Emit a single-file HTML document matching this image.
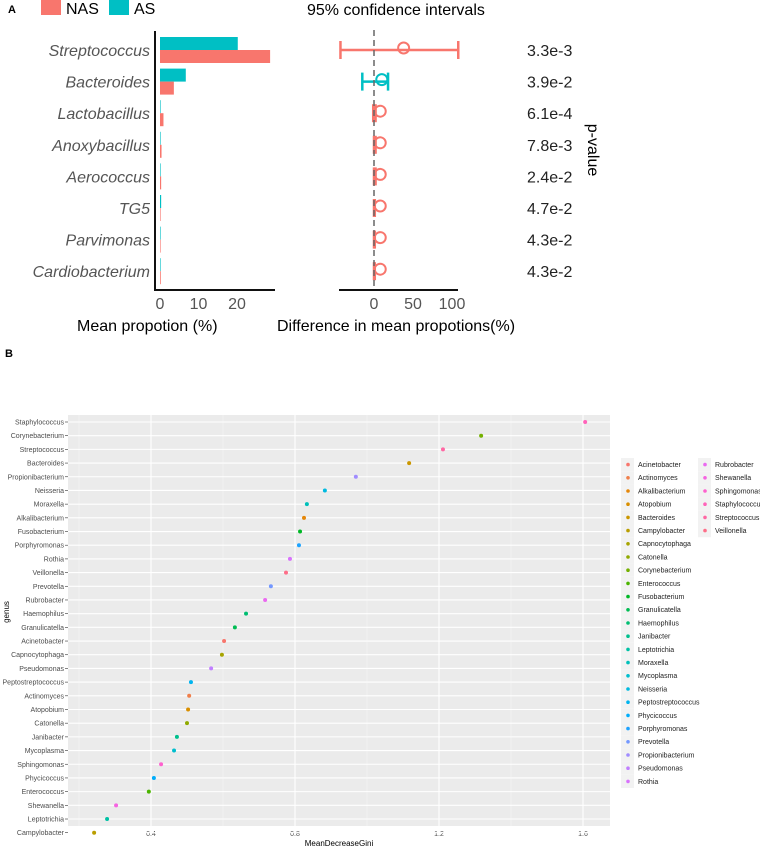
<!DOCTYPE html>
<html><head><meta charset="utf-8"><style>
body{margin:0;background:#fff;}
svg{display:block;font-family:"Liberation Sans",Arial,sans-serif;}
</style></head><body>
<svg id="svg" width="760" height="847" viewBox="0 0 760 847" xmlns="http://www.w3.org/2000/svg">
<g id="pa"></g>
<g id="pb"></g>
</svg>
<script>
// ---------- Panel A data ----------
const aGenera = ["Streptococcus","Bacteroides","Lactobacillus","Anoxybacillus","Aerococcus","TG5","Parvimonas","Cardiobacterium"];
const aAS = [20.2,6.7,0.1,0.1,0.1,0.3,0.1,0.1];
const aNAS = [28.6,3.6,0.9,0.4,0.3,0.1,0.1,0.2];
const ciLow = [-43,-15,-1,0,0,0,0,0];
const ciHigh = [108,18,2,2,2,1,1,1];
const ciMid = [38,10,8,8,8,8,8,8];
const ciGroup = ["NAS","AS","NAS","NAS","NAS","NAS","NAS","NAS"];
const pvals = ["3.3e-3","3.9e-2","6.1e-4","7.8e-3","2.4e-2","4.7e-2","4.3e-2","4.3e-2"];
const aTicks = [0,10,20];
const ciTicks = [0,50,100];
// ---------- Panel B data ----------
const bGenera = ["Staphylococcus","Corynebacterium","Streptococcus","Bacteroides","Propionibacterium","Neisseria","Moraxella","Alkalibacterium","Fusobacterium","Porphyromonas","Rothia","Veillonella","Prevotella","Rubrobacter","Haemophilus","Granulicatella","Acinetobacter","Capnocytophaga","Pseudomonas","Peptostreptococcus","Actinomyces","Atopobium","Catonella","Janibacter","Mycoplasma","Sphingomonas","Phycicoccus","Enterococcus","Shewanella","Leptotrichia","Campylobacter"];
const bGini = [1.606,1.317,1.211,1.117,0.969,0.883,0.833,0.825,0.814,0.811,0.786,0.775,0.733,0.717,0.664,0.633,0.603,0.597,0.567,0.511,0.506,0.503,0.500,0.472,0.464,0.428,0.408,0.394,0.303,0.278,0.242];
const bTicks = [0.4,0.8,1.2,1.6];
const bMinor = [0.2,0.6,1.0,1.4];

const NS="http://www.w3.org/2000/svg";
function mk(parent,tag,attrs,text){const e=document.createElementNS(NS,tag);for(const k in attrs)e.setAttribute(k,attrs[k]);if(text!==undefined)e.textContent=text;parent.appendChild(e);return e;}
const RED="#F8766D", TEAL="#00BFC4";
const pa=document.getElementById('pa'), pb=document.getElementById('pb');

// ---- Panel A ----
let t;
t=mk(pa,'text',{x:8,y:13,'font-size':11,'font-weight':'bold'},'A');


let r=mk(pa,'rect',{x:41,y:0,width:20,height:15,fill:RED});


t=mk(pa,'text',{x:66,y:14,'font-size':16},'NAS');


r=mk(pa,'rect',{x:109,y:0,width:20,height:15,fill:TEAL});


t=mk(pa,'text',{x:134,y:14,'font-size':16},'AS');


t=mk(pa,'text',{x:307,y:15,'font-size':16},'95% confidence intervals');



const rowY=i=>50+i*31.6;
const xa=v=>160+v*3.85;
const xc=v=>374+v*0.78;
aGenera.forEach((g,i)=>{
  const y=rowY(i);
  let l=mk(pa,'text',{x:150,y:y+6,'font-size':16,'font-style':'italic',fill:'#555','text-anchor':'end'},g);
  
  
  let b=mk(pa,'rect',{x:xa(0),y:y-13,width:Math.max(0.6,xa(aAS[i])-xa(0)),height:13,fill:TEAL});
  
  
  b=mk(pa,'rect',{x:xa(0),y:y,width:Math.max(0.6,xa(aNAS[i])-xa(0)),height:13,fill:RED});
  
  
  const col=ciGroup[i]==="AS"?TEAL:RED;
  const ci=mk(pa,'g',{stroke:col,'stroke-width':2.5,fill:'none'});
  
  
  mk(ci,'line',{x1:xc(ciLow[i]),x2:xc(ciHigh[i]),y1:y,y2:y});
  mk(ci,'line',{x1:xc(ciLow[i]),x2:xc(ciLow[i]),y1:y-9,y2:y+9});
  mk(ci,'line',{x1:xc(ciHigh[i]),x2:xc(ciHigh[i]),y1:y-9,y2:y+9});
  mk(ci,'circle',{cx:xc(ciMid[i]),cy:y-2,r:5.5,'stroke-width':2});
  let p=mk(pa,'text',{x:527,y:y+6,'font-size':16,fill:'#222'},pvals[i]);
  
  
});
let ln=mk(pa,'line',{x1:xc(0),x2:xc(0),y1:30,y2:290,stroke:'#666','stroke-width':1.5,'stroke-dasharray':'6,4'});


ln=mk(pa,'path',{d:'M155,31 V290 H275',stroke:'#111','stroke-width':2,fill:'none'});


ln=mk(pa,'line',{x1:339,x2:458,y1:290,y2:290,stroke:'#111','stroke-width':2});


aTicks.forEach(v=>{let k=mk(pa,'text',{x:xa(v),y:309,'font-size':16,fill:'#555','text-anchor':'middle'},v);

});
ciTicks.forEach(v=>{let k=mk(pa,'text',{x:xc(v),y:309,'font-size':16,fill:'#555','text-anchor':'middle'},v);

});
t=mk(pa,'text',{x:77,y:331,'font-size':16},'Mean propotion (%)');


t=mk(pa,'text',{x:277,y:331,'font-size':16},'Difference in mean propotions(%)');


t=mk(pa,'text',{x:0,y:0,'font-size':16,transform:'translate(588,150) rotate(90)','text-anchor':'middle'},'p-value');



// ---- Panel B ----
function hcl(h){const L=65,C=100;const hr=h*Math.PI/180;const u=C*Math.cos(hr),v=C*Math.sin(hr);
 const Y=Math.pow((L+16)/116,3);const un=0.1978,vn=0.4683;const up=u/(13*L)+un,vp=v/(13*L)+vn;
 const X=Y*9*up/(4*vp),Z=Y*(12-3*up-20*vp)/(4*vp);
 let rgb=[3.2406*X-1.5372*Y-0.4986*Z,-0.9689*X+1.8758*Y+0.0415*Z,0.0557*X-0.2040*Y+1.0570*Z];
 rgb=rgb.map(c=>{c=c<=0.0031308?12.92*c:1.055*Math.pow(c,1/2.4)-0.055;return Math.round(Math.max(0,Math.min(1,c))*255);});
 return 'rgb('+rgb.join(',')+')';}
const legendOrder=bGenera.slice().sort();
const n=legendOrder.length;
const colorOf=g=>hcl(15+360*legendOrder.indexOf(g)/n);

t=mk(pb,'text',{x:5,y:357,'font-size':11,'font-weight':'bold'},'B');


const L0=68,R0=610,T0=415,B0=826;
r=mk(pb,'rect',{x:L0,y:T0,width:R0-L0,height:B0-T0,fill:'#EBEBEB'});


const xb=v=>151+(v-0.4)*360;
const yb=i=>422+i*13.69;
bMinor.forEach(v=>{let g=mk(pb,'line',{x1:xb(v),x2:xb(v),y1:T0,y2:B0,stroke:'#F5F5F5','stroke-width':0.6});

});
bTicks.forEach(v=>{let g=mk(pb,'line',{x1:xb(v),x2:xb(v),y1:T0,y2:B0,stroke:'#fff','stroke-width':1.1});


let k=mk(pb,'text',{x:xb(v),y:836,'font-size':7,fill:'#4d4d4d','text-anchor':'middle'},v);

});
bGenera.forEach((g,i)=>{
  const y=yb(i);
  let gl=mk(pb,'line',{x1:L0,x2:R0,y1:y,y2:y,stroke:'#fff','stroke-width':1.1});
  
  
  let tk=mk(pb,'line',{x1:L0-3,x2:L0,y1:y,y2:y,stroke:'#333','stroke-width':0.6});
  
  
  let lb=mk(pb,'text',{x:L0-4,y:y+2.5,'font-size':7,fill:'#4d4d4d','text-anchor':'end'},g);
  
  
});
bGenera.forEach((g,i)=>{
  let p=mk(pb,'circle',{cx:xb(bGini[i]),cy:yb(i),r:2,fill:colorOf(g)});
  
  
});
t=mk(pb,'text',{x:0,y:0,'font-size':8,transform:'translate(9,612) rotate(-90)','text-anchor':'middle'},'genus');


t=mk(pb,'text',{x:339,y:846,'font-size':8,'text-anchor':'middle'},'MeanDecreaseGini');


legendOrder.forEach((g,i)=>{
  const col=i<25?0:1, row=i<25?i:i-25;
  const x=col?698:621, y=458+row*13.2;
  const le=mk(pb,'g',{});
  
  
  mk(le,'rect',{x:x,y:y,width:13,height:13.2,fill:'#F2F2F2'});
  mk(le,'circle',{cx:x+7,cy:y+6.6,r:1.8,fill:colorOf(g)});
  mk(le,'text',{x:x+17,y:y+9,'font-size':7,fill:'#222'},g);
});
</script>
</body></html>
